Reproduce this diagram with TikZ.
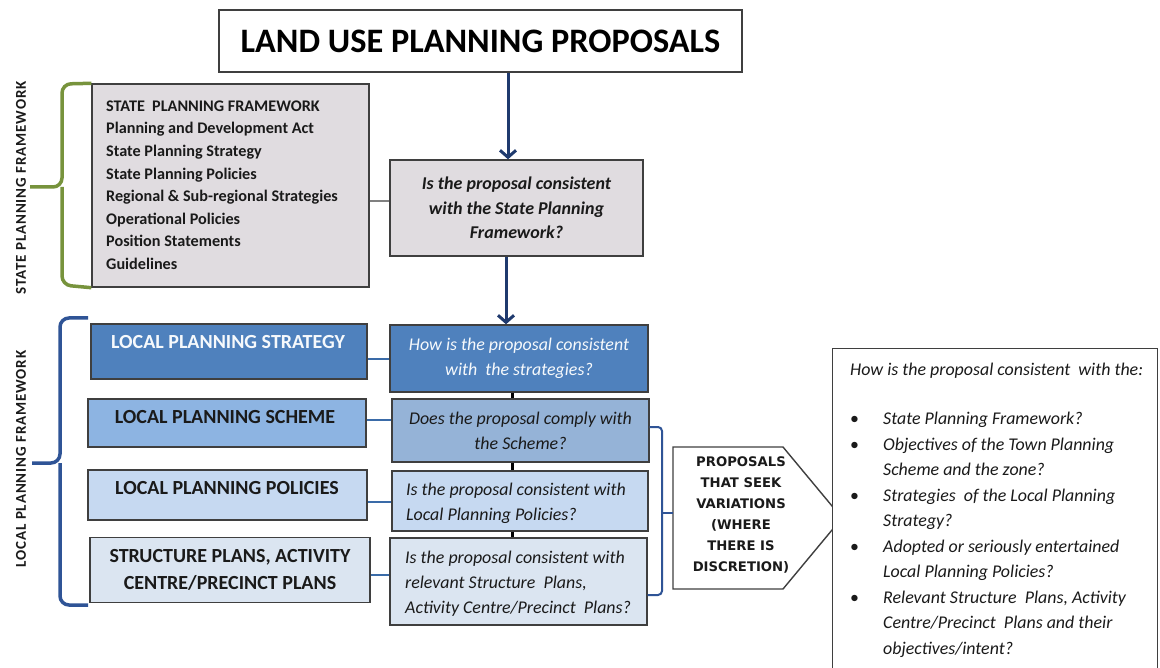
\documentclass[tikz,border=0pt]{standalone}
\usepackage{fontspec}
\setmainfont{Carlito}
\newfontfamily\verd{DejaVu Sans}
\usetikzlibrary{arrows.meta}
\definecolor{navy}{HTML}{1F3A6E}
\definecolor{grayfill}{HTML}{E0DCE0}
\definecolor{bord}{HTML}{3F3F3F}
\definecolor{blueA}{HTML}{4F81BD}
\definecolor{blueB}{HTML}{8DB4E2}
\definecolor{blueBq}{HTML}{95B3D7}
\definecolor{blueC}{HTML}{C6D9F1}
\definecolor{blueD}{HTML}{DBE5F1}
\definecolor{conblue}{HTML}{3A6BA8}
\definecolor{brblue}{HTML}{2F5496}
\definecolor{brgreen}{HTML}{77933C}
\definecolor{txt}{HTML}{1A1A1A}
\tikzset{
  box/.style={draw=bord, line width=1.4pt, inner sep=0pt},
  arr/.style={draw=navy, line width=3pt, -{Straight Barb[length=7pt,width=16pt]}},
  gline/.style={draw=gray, line width=2pt},
  bline/.style={draw=conblue, line width=2pt},
  kline/.style={draw=black, line width=3pt},
  lbl/.style={inner sep=0pt, text=txt},
  brace/.style={line width=3.5pt, rounded corners=9pt},
  vtext/.style={lbl, rotate=90, font=\fontsize{15}{17}\selectfont\bfseries\addfontfeature{LetterSpace=6}},
}
\newcommand{\sfs}{\fontsize{16.2}{22.6}\selectfont\bfseries}
\newcommand{\lfs}{\fontsize{20}{27}\selectfont\bfseries}
\newcommand{\qfs}{\fontsize{17.9}{24.8}\selectfont\itshape}
\newcommand{\rfs}{\fontsize{17.9}{25.5}\selectfont\itshape}
\newcommand{\bul}{\makebox[33pt][l]{\upshape\textbullet}}
\newcommand{\ind}{\hspace*{33pt}}
\begin{document}
\begin{tikzpicture}[x=1pt,y=-1pt]
\useasboundingbox (0,0) rectangle (1160,668);
\fill[white] (0,0) rectangle (1160,668);
% title
\node[box, fill=white, minimum width=523, minimum height=62] (title) at (480.5,41)
  {\fontsize{34.3}{40}\selectfont\bfseries LAND USE PLANNING PROPOSALS};
% state framework
\node[box, fill=grayfill, minimum width=277, minimum height=203] (state) at (230.5,185.5) {};
\node[lbl, anchor=north west, align=left, font=\sfs] (stateT) at (106,100.5)
  {STATE~ PLANNING FRAMEWORK\\ Planning and Development Act\\ State Planning Strategy\\ State Planning Policies\\ Regional \& Sub-regional Strategies\\ Operational Policies\\ Position Statements\\ Guidelines};
\node[box, fill=grayfill, minimum width=253, minimum height=96, align=center,
  font=\fontsize{18}{24.5}\selectfont\bfseries\itshape, text=txt] (q1) at (516.5,208)
  {Is the proposal consistent\\ with the State Planning\\ Framework?};
% local framework left boxes
\node[box, fill=blueA, minimum width=276, minimum height=55] (lps) at (229,351.5) {};
\node[lbl, font=\lfs, text=white!95!blueA] (lpsT) at (228,342) {LOCAL PLANNING STRATEGY};
\node[box, fill=blueB, minimum width=278, minimum height=48] (lpsch) at (227,423) {};
\node[lbl, font=\lfs] (lpschT) at (225,417) {LOCAL PLANNING SCHEME};
\node[box, fill=blueC, minimum width=279, minimum height=50] (lpp) at (227.5,495) {};
\node[lbl, font=\lfs] (lppT) at (227,488) {LOCAL PLANNING POLICIES};
\node[box, fill=blueD, minimum width=280, minimum height=65, align=center,
  font=\fontsize{20}{27}\selectfont\bfseries, text=txt] (sp) at (230,570)
  {STRUCTURE PLANS, ACTIVITY\\ CENTRE/PRECINCT PLANS};
% right question boxes
\node[box, fill=blueA, minimum width=258, minimum height=67, align=center, font=\qfs,
  text=white!95!blueA] (qlps) at (519,358.5)
  {How is the proposal consistent\\ with~ the strategies?};
\node[box, fill=blueBq, minimum width=257, minimum height=63, align=center, font=\qfs,
  text=txt] (qsch) at (520.5,430.5)
  {Does the proposal comply with\\ the Scheme?};
\node[box, fill=blueC, minimum width=256, minimum height=60] (qlpp) at (520,501) {};
\node[lbl, anchor=west, align=left, font=\qfs] (qlppT) at (406,503)
  {Is the proposal consistent with\\ Local Planning Policies?};
\node[box, fill=blueD, minimum width=257, minimum height=87] (qsp) at (518.5,581.5) {};
\node[lbl, anchor=west, align=left, font=\qfs] (qspT) at (405,584)
  {Is the proposal consistent with\\ relevant Structure~ Plans,\\ Activity Centre/Precinct~ Plans?};
% arrows
\coordinate (ax) at (508,0);
\coordinate (bx) at (506,0);
\draw[arr] (title.south -| ax) -- (q1.north -| ax);
\draw[arr] (q1.south -| bx) -- (qlps.north -| bx);
% connectors
\coordinate (c1) at (0,201);
\draw[gline] (state.east |- c1) -- (q1.west |- c1);
\coordinate (c2) at (0,359);
\coordinate (c3) at (0,420);
\coordinate (c4) at (0,502);
\coordinate (c5) at (0,575);
\draw[bline] (lps.east |- c2) -- (qlps.west |- c2);
\draw[bline] (lpsch.east |- c3) -- (qsch.west |- c3);
\draw[bline] (lpp.east |- c4) -- (qlpp.west |- c4);
\draw[bline] (sp.east |- c5) -- (qsp.west |- c5);
\coordinate (sx) at (512,0);
\draw[kline] (qlps.south -| sx) -- (qsch.north -| sx);
\draw[kline] (qsch.south -| sx) -- (qlpp.north -| sx);
\draw[kline] (qlpp.south -| sx) -- (qsp.north -| sx);
% state bracket
\coordinate (gtip) at (30,187);
\draw[brace, draw=brgreen] (state.north west) -- (62,84) -- (62,187) -- (gtip);
\draw[brace, draw=brgreen] (state.south west) -- (62,285) -- (62,187);
\node[vtext] (spfT) at (21,188) {STATE PLANNING FRAMEWORK};
% local bracket
\coordinate (ltip) at (32,463);
\draw[brace, draw=brblue] (88,318) -- (60,318) -- (60,463) -- (ltip);
\draw[brace, draw=brblue] (88,605) -- (60,605) -- (60,463);
\node[vtext] (lpfT) at (21,459) {LOCAL PLANNING FRAMEWORK};
% pentagon
\coordinate (hexL) at (673,513);
\draw[box, fill=white] (673,447) -- (783,447) -- (842,518) -- (783,589) -- (673,589) -- cycle;
\node[lbl, align=center, font=\verd\fontsize{13.2}{21}\selectfont\bfseries] (hexT) at (741,514.5)
  {PROPOSALS\\ THAT SEEK\\ VARIATIONS\\ (WHERE\\ THERE IS\\ DISCRETION)};
% right bracket
\draw[line width=2pt, draw=brblue, rounded corners=4pt] (qsch.east |- 0,427) -- (662,427) -- (662,595) -- (qsp.east |- 0,595);
\draw[line width=2pt, draw=brblue] (662,513) -- (hexL);
% right box
\node[box, fill=white, minimum width=325, minimum height=340, anchor=north west] (rbox) at (832,348) {};
\node[lbl, anchor=north west, align=left, font=\rfs] (rboxT) at (850,363)
  {How is the proposal consistent~ with the:\\[23.5pt]
   \bul State Planning Framework?\\
   \bul Objectives of the Town Planning\\
   \ind Scheme and the zone?\\
   \bul Strategies~ of the Local Planning\\
   \ind Strategy?\\
   \bul Adopted or seriously entertained\\
   \ind Local Planning Policies?\\
   \bul Relevant Structure~ Plans, Activity\\
   \ind Centre/Precinct~ Plans and their\\
   \ind objectives/intent?};
\end{tikzpicture}
\end{document}
